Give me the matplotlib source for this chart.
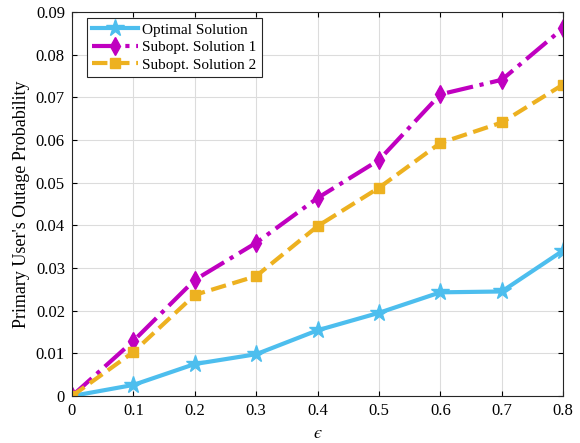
import matplotlib.pyplot as plt

eps = [0, 0.1, 0.2, 0.3, 0.4, 0.5, 0.6, 0.7, 0.8]
optimal = [0, 0.0026, 0.0075, 0.0098, 0.0154, 0.0195, 0.0243, 0.0245, 0.0341]
subopt1 = [0, 0.0129, 0.0272, 0.0359, 0.0464, 0.0553, 0.0707, 0.0741, 0.0862]
subopt2 = [0, 0.0103, 0.0237, 0.0281, 0.0398, 0.0488, 0.0593, 0.0641, 0.0730]

plt.rcParams['font.family'] = ['Liberation Serif', 'DejaVu Serif']
plt.rcParams['mathtext.fontset'] = 'stix'

fig = plt.figure(figsize=(5.8, 4.43), dpi=100)
ax = fig.add_axes([0.124, 0.106, 0.847, 0.867])

ax.plot(eps, optimal, '-*', color='#4DBEEE', lw=3, ms=13, label='Optimal Solution')
ax.plot(eps, subopt1, '-.d', color='#C000C0', lw=3, ms=9, label='Subopt. Solution 1')
ax.plot(eps, subopt2, '--s', color='#EDB120', lw=3, ms=7, label='Subopt. Solution 2')

ax.set_xlim(0, 0.8)
ax.set_ylim(0, 0.09)
ax.set_xticks(eps)
ax.set_xticklabels(['0', '0.1', '0.2', '0.3', '0.4', '0.5', '0.6', '0.7', '0.8'])
ax.set_yticks([i * 0.01 for i in range(10)])
ax.set_yticklabels(['0'] + ['%.2f' % (i * 0.01) for i in range(1, 10)])
ax.tick_params(direction='in', top=True, right=True, labelsize=12, pad=5)
ax.grid(True, color='#DCDCDC', lw=0.8)
ax.set_axisbelow(True)
for s in ax.spines.values():
    s.set_color('#262626')
ax.set_xlabel('$\\mathit{\u03f5}$', fontsize=13)
ax.set_ylabel("Primary User's Outage Probability", fontsize=13)

leg = ax.legend(loc='upper left', bbox_to_anchor=(0.03, 0.985), fontsize=11,
                fancybox=False, edgecolor='#262626', framealpha=1,
                borderpad=0.35, labelspacing=0.25, handlelength=3.0, handletextpad=0.3,
                borderaxespad=0)
leg.get_frame().set_linewidth(0.8)

fig.savefig('out.png', dpi=100)
